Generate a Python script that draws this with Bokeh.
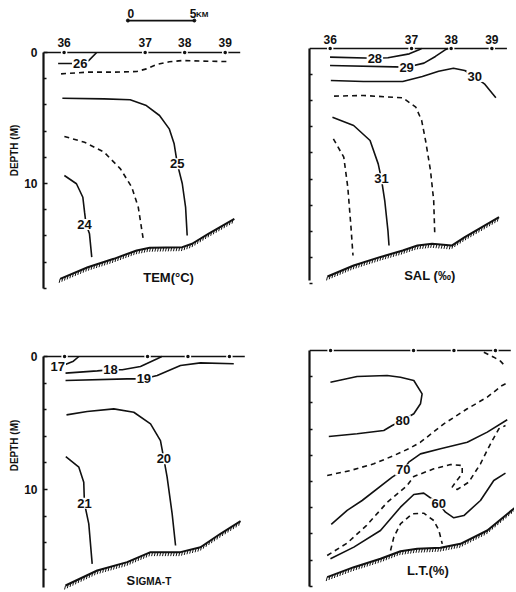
import numpy as np
from bokeh.plotting import figure
from bokeh.layouts import gridplot
from bokeh.models import Range1d, FixedTicker
from bokeh.core.properties import value
from bokeh.embed import file_html
from bokeh.resources import INLINE

# ---------------- data (distance along section in km, depth in m) ----------------
STATION_NAMES = ["36", "37", "38", "39"]
STATION_KM = [1.55, 7.65, 10.62, 13.67]
SURFACE_KM = [0.0, 14.8]
SCALE_BAR_KM = [0, 5]
DEPTH_TICKS = [0, 10]
DEPTH_MINOR = [2, 4, 6, 8, 12, 14, 16, 18]

# Temperature
TEM_26_KM = [1.1, 2.9, 3.4, 4.0]
TEM_26_M = [0.84, 0.84, 0.62, 0.0]
TEM_255_KM = [1.32, 3.33, 5.29, 7.01, 7.74, 8.48, 9.46, 10.44, 11.91, 13.87]
TEM_255_M = [1.63, 1.5, 1.5, 1.45, 1.25, 0.92, 0.71, 0.61, 0.66, 0.69]
TEM_25_KM = [1.42, 4.56, 6.52, 7.74, 8.73, 9.46, 9.83, 10.07, 10.44, 10.69, 10.81]
TEM_25_M = [3.49, 3.54, 3.61, 4.05, 4.81, 5.83, 6.97, 8.5, 10.0, 11.8, 13.97]
TEM_245_KM = [1.57, 3.09, 4.56, 5.79, 6.64, 7.13, 7.5]
TEM_245_M = [6.41, 6.85, 7.61, 8.88, 10.28, 11.81, 14.22]
TEM_24_KM = [1.57, 2.48, 2.96, 3.09, 3.2, 3.46, 3.63]
TEM_24_M = [9.39, 10.02, 11.05, 12.19, 13.1, 13.84, 15.62]
TEM_BOTTOM_KM = [1.25, 3.33, 5.29, 7.01, 7.99, 10.44, 11.18, 12.4, 14.36]
TEM_BOTTOM_M = [17.28, 16.39, 15.75, 15.11, 14.91, 14.86, 14.6, 13.84, 12.7]
TEM_LABELS = ["26", "25", "24"]
TEM_LABEL_KM = [2.76, 10.07, 3.09]
TEM_LABEL_M = [0.86, 8.5, 13.13]

# Salinity
SAL_28_KM = [1.54, 4.9, 5.88, 7.48, 8.21, 8.4]
SAL_28_M = [0.66, 0.75, 0.71, 0.41, 0.1, 0.0]
SAL_29_KM = [1.54, 7.28, 8.58, 9.44, 10.17, 10.4]
SAL_29_M = [1.3, 1.43, 1.12, 0.61, 0.1, 0.0]
SAL_30_KM = [1.6, 4.04, 6.99, 8.46, 9.68, 10.79, 11.64, 12.38, 13.11, 13.97]
SAL_30_M = [2.45, 2.53, 2.53, 2.15, 1.74, 1.51, 1.69, 2.15, 2.71, 3.78]
SAL_305_KM = [1.84, 4.04, 6.99, 7.97, 8.41, 8.7, 9.07, 9.31, 9.39]
SAL_305_M = [3.65, 3.6, 3.78, 4.5, 5.52, 7.05, 9.35, 11.65, 14.2]
SAL_31_KM = [1.72, 3.31, 4.54, 5.15, 5.39, 5.64, 5.88, 5.96]
SAL_31_M = [5.26, 5.9, 7.05, 8.84, 9.99, 11.65, 13.95, 15.1]
SAL_315_KM = [1.79, 2.57, 2.87, 3.11, 3.26]
SAL_315_M = [6.92, 8.33, 10.63, 13.69, 15.86]
SAL_BOTTOM_KM = [1.35, 3.31, 5.27, 6.99, 8.09, 9.19, 10.66, 11.64, 14.21]
SAL_BOTTOM_M = [17.47, 16.63, 15.99, 15.48, 15.1, 14.97, 15.1, 14.46, 12.93]
SAL_LABELS = ["28", "29", "30", "31"]
SAL_LABEL_KM = [4.9, 7.28, 12.38, 5.39]
SAL_LABEL_M = [0.77, 1.43, 2.15, 9.99]

# Sigma-t
SIG_17_KM = [1.05, 1.6, 2.2, 2.6]
SIG_17_M = [0.75, 0.6, 0.35, 0.0]
SIG_18_KM = [1.62, 3.95, 4.93, 5.79, 7.13, 8.36, 8.7]
SIG_18_M = [1.25, 1.08, 1.0, 1.0, 0.75, 0.17, 0.0]
SIG_19_KM = [1.62, 6.15, 7.38, 8.36, 10.07, 11.54, 13.99]
SIG_19_M = [1.8, 1.68, 1.68, 1.43, 0.68, 0.48, 0.55]
SIG_20_KM = [1.69, 3.21, 5.17, 6.64, 7.87, 8.6, 8.85, 9.09, 9.46, 9.71]
SIG_20_M = [4.39, 4.14, 3.94, 4.19, 5.06, 6.32, 7.69, 9.07, 11.83, 14.21]
SIG_21_KM = [1.64, 2.6, 2.96, 3.01, 3.33, 3.58]
SIG_21_M = [7.52, 8.32, 9.45, 11.03, 12.58, 15.59]
SIG_BOTTOM_KM = [1.62, 3.95, 6.15, 7.87, 10.07, 11.54, 13.01, 14.49]
SIG_BOTTOM_M = [17.22, 16.09, 15.46, 14.71, 14.71, 14.34, 13.33, 12.38]
SIG_LABELS = ["17", "18", "19", "20", "21"]
SIG_LABEL_KM = [1.05, 4.93, 7.38, 8.85, 3.01]
SIG_LABEL_M = [0.75, 1.0, 1.68, 7.69, 11.03]

# Light transmission
LT_80_KM = [1.42, 3.5, 5.46, 6.08, 6.82, 7.67, 8.16, 8.28, 7.67, 6.69, 5.71, 3.5, 1.54]
LT_80_M = [6.56, 6.36, 6.11, 5.73, 5.34, 4.83, 4.07, 3.31, 2.29, 2.04, 1.91, 1.98, 2.42]
LT_75_KM = [1.3, 3.01, 4.73, 6.2, 7.3, 8.16, 9.88, 11.6, 13.07, 14.17, 14.5]
LT_75_M = [9.54, 9.16, 8.65, 8.02, 7.5, 7.0, 5.6, 4.45, 3.56, 2.67, 2.5]
LT_70_KM = [1.6, 2.77, 3.87, 6.08, 6.9, 7.3, 8.16, 9.63, 11.6, 13.07, 14.54]
LT_70_M = [13.28, 12.2, 11.45, 9.67, 9.12, 8.52, 7.89, 7.5, 7.0, 6.23, 5.29]
LT_65_KM = [1.3, 2.77, 4.2, 5.71, 7.18, 7.67, 9.14, 10.37, 11.23, 11.23, 10.74, 10.49,
            10.86, 11.71, 12.57, 13.31, 13.92, 14.41]
LT_65_M = [15.65, 14.7, 13.35, 11.6, 10.31, 9.62, 9.03, 8.7, 8.78, 9.41, 10.05, 10.43,
           10.61, 10.05, 8.65, 7.12, 5.98, 5.73]
LT_60_KM = [1.54, 3.26, 5.22, 6.69, 7.67, 8.4, 9.5, 10.0, 10.61, 11.35, 12.57, 13.55, 14.41]
LT_60_M = [15.9, 15.01, 13.74, 11.96, 10.99, 10.89, 11.7, 12.34, 12.77, 12.6, 11.45, 9.92, 9.36]
LT_55_KM = [5.96, 6.2, 6.69, 7.55, 8.4, 9.14, 9.51, 9.76]
LT_55_M = [15.27, 14.25, 13.23, 12.47, 12.42, 12.98, 13.72, 14.76]
LT_85_KM = [12.82, 13.55, 14.04, 14.41]
LT_85_M = [0.13, 0.51, 0.81, 1.22]
LT_BOTTOM_KM = [1.3, 3.26, 5.22, 6.69, 7.92, 9.63, 11.1, 13.07, 15.15]
LT_BOTTOM_M = [17.3, 16.54, 15.9, 15.32, 15.14, 15.06, 14.76, 13.74, 11.96]
LT_LABELS = ["80", "70", "60"]
LT_LABEL_KM = [6.85, 6.9, 9.5]
LT_LABEL_M = [5.36, 9.12, 11.7]

# ---------------- styling / drawing ----------------
PX_PER_KM = 13.6
FONT = value("Liberation Sans")
INK = "#111111"


def make_panel(width, height, frame_left, zero_px, px_per_m, axis_end, show_labels):
    top = -zero_px / px_per_m
    bottom = (height - zero_px) / px_per_m
    p = figure(width=width, height=height,
               x_range=Range1d(0, (width - frame_left) / PX_PER_KM),
               y_range=Range1d(bottom, top),
               output_backend="svg", toolbar_location=None,
               x_axis_location=None, y_axis_location="left",
               min_border_left=frame_left, min_border_right=0,
               min_border_top=0, min_border_bottom=0,
               background_fill_color="white", border_fill_color="white")
    p.outline_line_color = None
    p.grid.grid_line_color = None
    ax = p.yaxis[0]
    ax.bounds = (0, axis_end)
    ax.axis_line_width = 2.2
    ax.axis_line_color = INK
    ax.major_tick_in = 4
    ax.major_tick_out = 0
    ax.minor_tick_in = 3
    ax.minor_tick_out = 0
    ax.major_tick_line_width = 1.5
    ax.minor_tick_line_width = 1.5
    ax.major_tick_line_color = INK
    ax.minor_tick_line_color = INK
    if show_labels:
        ax.ticker = FixedTicker(ticks=DEPTH_TICKS, minor_ticks=DEPTH_MINOR)
        ax.major_label_text_font = "Liberation Sans"
        ax.major_label_text_font_style = "bold"
        ax.major_label_text_font_size = "12px"
        ax.major_label_text_color = INK
        ax.major_label_standoff = 6
        ax.axis_label = "DEPTH (M)"
        ax.axis_label_text_font = "Liberation Sans"
        ax.axis_label_text_font_style = "bold"
        ax.axis_label_text_font_size = "10px"
        ax.axis_label_text_color = INK
        ax.axis_label_standoff = 1
    else:
        ax.ticker = FixedTicker(ticks=[], minor_ticks=DEPTH_MINOR + [10])
    # sea surface with stations
    p.line(SURFACE_KM, [0, 0], line_width=1.5, color=INK)
    p.scatter(STATION_KM, [0] * len(STATION_KM), size=5, fill_color=INK,
              line_color="white", line_width=1.5)
    return p


def contour(p, xs, ys, dashed=False):
    p.line(xs, ys, line_width=1.6, color=INK,
           line_dash="5 4" if dashed else "solid")


def bottom(p, xs, ys):
    p.line(xs, ys, line_width=2, color=INK)
    hx = np.arange(xs[0], xs[-1], 0.2)
    hy = np.interp(hx, xs, ys)
    p.segment(hx, hy, hx - 0.07, hy + 0.3, line_width=1, color=INK)


def labels(p, texts, xs, ys, size="13px"):
    p.text(xs, ys, text=texts, text_font=FONT, text_font_style="bold",
           text_font_size=size, text_color=INK, text_align="center",
           text_baseline="middle", background_fill_color="white", padding=1)


def title(p, txt, x, y, size="13px", align="center"):
    p.text([x], [y], text=[txt], text_font=FONT, text_font_style="bold",
           text_font_size=size, text_color=INK, text_align=align,
           text_baseline="middle")


def station_labels(p, y):
    p.text(STATION_KM, [y] * len(STATION_KM), text=STATION_NAMES, text_font=FONT,
           text_font_style="bold", text_font_size="12px", text_color=INK,
           text_align="center", text_baseline="middle")


# --- Temperature panel
p1 = make_panel(258, 300, 38, 52, 13.1, 18, True)
station_labels(p1, -0.76)
bar0 = 6.35
bx = [bar0 + v for v in SCALE_BAR_KM]
p1.line(bx, [-2.44, -2.44], line_width=1.8, color=INK)
p1.scatter(bx, [-2.44, -2.44], size=3, color=INK)
title(p1, str(SCALE_BAR_KM[0]), bx[0] + 0.22, -2.95, size="12px")
title(p1, str(SCALE_BAR_KM[1]), bx[1] - 0.1, -2.95, size="12px")
title(p1, "KM", bx[1] + 0.12, -2.9, size="8px", align="left")
contour(p1, TEM_26_KM, TEM_26_M)
contour(p1, TEM_255_KM, TEM_255_M, True)
contour(p1, TEM_25_KM, TEM_25_M)
contour(p1, TEM_245_KM, TEM_245_M, True)
contour(p1, TEM_24_KM, TEM_24_M)
bottom(p1, TEM_BOTTOM_KM, TEM_BOTTOM_M)
labels(p1, TEM_LABELS, TEM_LABEL_KM, TEM_LABEL_M)
title(p1, "TEM(°C)", 9.41, 17.18)

# --- Salinity panel
p2 = make_panel(256, 300, 47, 48, 13.05, 17.8, False)
station_labels(p2, -0.69)
contour(p2, SAL_28_KM, SAL_28_M)
contour(p2, SAL_29_KM, SAL_29_M)
contour(p2, SAL_30_KM, SAL_30_M)
contour(p2, SAL_305_KM, SAL_305_M, True)
contour(p2, SAL_31_KM, SAL_31_M)
contour(p2, SAL_315_KM, SAL_315_M, True)
bottom(p2, SAL_BOTTOM_KM, SAL_BOTTOM_M)
labels(p2, SAL_LABELS, SAL_LABEL_KM, SAL_LABEL_M)
title(p2, "SAL (‰)", 9.02, 17.39)

# --- Sigma-t panel
p3 = make_panel(258, 290, 43, 56, 13.3, 17.4, True)
contour(p3, SIG_17_KM, SIG_17_M)
contour(p3, SIG_18_KM, SIG_18_M)
contour(p3, SIG_19_KM, SIG_19_M)
contour(p3, SIG_20_KM, SIG_20_M)
contour(p3, SIG_21_KM, SIG_21_M)
bottom(p3, SIG_BOTTOM_KM, SIG_BOTTOM_M)
labels(p3, SIG_LABELS, SIG_LABEL_KM, SIG_LABEL_M)
title(p3, "S", 6.1, 16.84, size="13px", align="left")
title(p3, "IGMA-T", 6.78, 16.92, size="10px", align="left")

# --- Light transmission panel
p4 = make_panel(256, 290, 51, 50, 13.1, 18.0, False)
contour(p4, LT_85_KM, LT_85_M, True)
contour(p4, LT_80_KM, LT_80_M)
contour(p4, LT_75_KM, LT_75_M, True)
contour(p4, LT_70_KM, LT_70_M)
contour(p4, LT_65_KM, LT_65_M, True)
contour(p4, LT_60_KM, LT_60_M)
contour(p4, LT_55_KM, LT_55_M, True)
bottom(p4, LT_BOTTOM_KM, LT_BOTTOM_M)
labels(p4, LT_LABELS, LT_LABEL_KM, LT_LABEL_M)
title(p4, "L.T.(%)", 8.7, 16.79)

grid = gridplot([[p1, p2], [p3, p4]], toolbar_location=None)
open("out.html", "w").write(file_html(grid, INLINE))
